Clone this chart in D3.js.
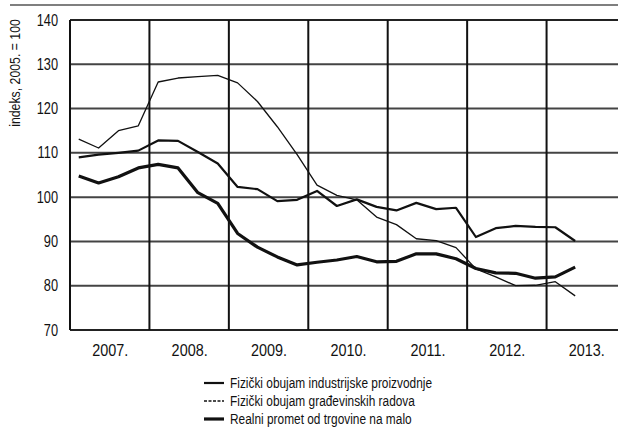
<!DOCTYPE html>
<html><head><meta charset="utf-8">
<script src="https://cdn.jsdelivr.net/npm/d3@7"></script>
<style>
html,body{margin:0;padding:0;background:#fff;}
svg{display:block;}
text{font-family:"Liberation Sans",Arial,sans-serif;fill:#111;}
</style></head>
<body><svg id="c" width="618" height="441"></svg>
<script>
// quarterly periods
const periods = [
 "2007Q1","2007Q2","2007Q3","2007Q4",
 "2008Q1","2008Q2","2008Q3","2008Q4",
 "2009Q1","2009Q2","2009Q3","2009Q4",
 "2010Q1","2010Q2","2010Q3","2010Q4",
 "2011Q1","2011Q2","2011Q3","2011Q4",
 "2012Q1","2012Q2","2012Q3","2012Q4",
 "2013Q1","2013Q2"];
const industry = [109.0,109.6,110.0,110.5, 112.8,112.7,110.2,107.6, 102.3,101.8,99.1,99.4, 101.4,98.0,99.5,97.8, 97.0,98.7,97.3,97.6, 91.0,93.0,93.5,93.3, 93.2,90.1];
const construction = [113.1,111.1,115.0,116.1, 126.0,126.9,127.2,127.5, 125.8,121.6,115.9,109.6, 102.7,100.4,99.4,95.5, 93.8,90.6,90.2,88.6, 83.8,82.0,80.0,80.1, 80.9,77.7];
const retail = [104.8,103.2,104.6,106.6, 107.4,106.6,101.0,98.6, 91.8,88.7,86.5,84.7, 85.3,85.8,86.6,85.4, 85.5,87.2,87.2,86.1, 83.9,82.9,82.8,81.7, 82.0,84.2];
const yTicks = [70,80,90,100,110,120,130,140];
const years = [2007,2008,2009,2010,2011,2012,2013];
const yTitle = "indeks, 2005. = 100";
const seriesNames = ["Fizički obujam industrijske proizvodnje","Fizički obujam građevinskih radova","Realni promet od trgovine na malo"];

const svg = d3.select("#c");
const x = d3.scaleLinear().domain([2007, 2014]).range([70, 626]);
const y = d3.scaleLinear().domain([70, 140]).range([330, 20]);
const pos = p => +p.slice(0,4) + (+p.slice(5) - 1) / 4 + 0.11;

// top page rule
svg.append("line").attr("x1",10).attr("x2",618).attr("y1",5).attr("y2",5)
  .attr("stroke","#555").attr("stroke-width",1.5);

// horizontal gridlines
svg.append("g").selectAll("line").data(yTicks).join("line")
  .attr("x1",70).attr("x2",618).attr("y1",d=>y(d)).attr("y2",d=>y(d))
  .attr("stroke",d=> (d===70||d===140)?"#222":"#444").attr("stroke-width",2);
// vertical gridlines at year boundaries
svg.append("g").selectAll("line").data(years.slice(1)).join("line")
  .attr("x1",d=>x(d)).attr("x2",d=>x(d)).attr("y1",y(140)).attr("y2",y(70))
  .attr("stroke","#111").attr("stroke-width",2);
// left border
svg.append("line").attr("x1",70).attr("x2",70).attr("y1",y(140)).attr("y2",y(70))
  .attr("stroke","#111").attr("stroke-width",2);

// axes
const ya = svg.append("g").attr("transform","translate(70,0)")
  .call(d3.axisLeft(y).tickValues(yTicks).tickSize(0).tickPadding(15));
ya.select(".domain").remove();
ya.selectAll("text").style("font-size","16px").style("font-family",'"Liberation Sans",Arial,sans-serif')
  .attr("transform","scale(0.8,1)");

const xa = svg.append("g").attr("transform","translate(0,330)")
  .call(d3.axisBottom(x).tickValues(years.map(d=>d+0.5)).tickFormat(d=>Math.floor(d)+".").tickSize(0).tickPadding(15));
xa.select(".domain").remove();
xa.selectAll("text").style("font-size","16px").style("font-family",'"Liberation Sans",Arial,sans-serif')
  .attr("transform","scale(0.9,1)");

svg.append("text").attr("transform","translate(20,73) rotate(-90) scale(0.82,1)")
  .attr("text-anchor","middle").style("font-size","15px").text(yTitle);

// lines
const line = d3.line().x((d,i)=>x(pos(periods[i]))).y(d=>y(d));
const styles = [{w:2.2},{w:1.3},{w:3.2}];
[industry, construction, retail].forEach((s,k)=>{
  svg.append("path").datum(s).attr("d",line).attr("fill","none")
    .attr("stroke","#111").attr("stroke-width",styles[k].w).attr("stroke-linejoin","round");
});

// legend
const lg = svg.append("g");
seriesNames.forEach((n,k)=>{
  const yy = 383 + k*18;
  lg.append("line").attr("x1",204).attr("x2",224).attr("y1",yy).attr("y2",yy)
    .attr("stroke","#111").attr("stroke-width",styles[k].w)
    .attr("stroke-dasharray", k===1 ? "3,1.5" : null);
  lg.append("text").attr("transform",`translate(230,${yy+5}) scale(0.82,1)`)
    .style("font-size","14.5px").text(n);
});
</script></body></html>
